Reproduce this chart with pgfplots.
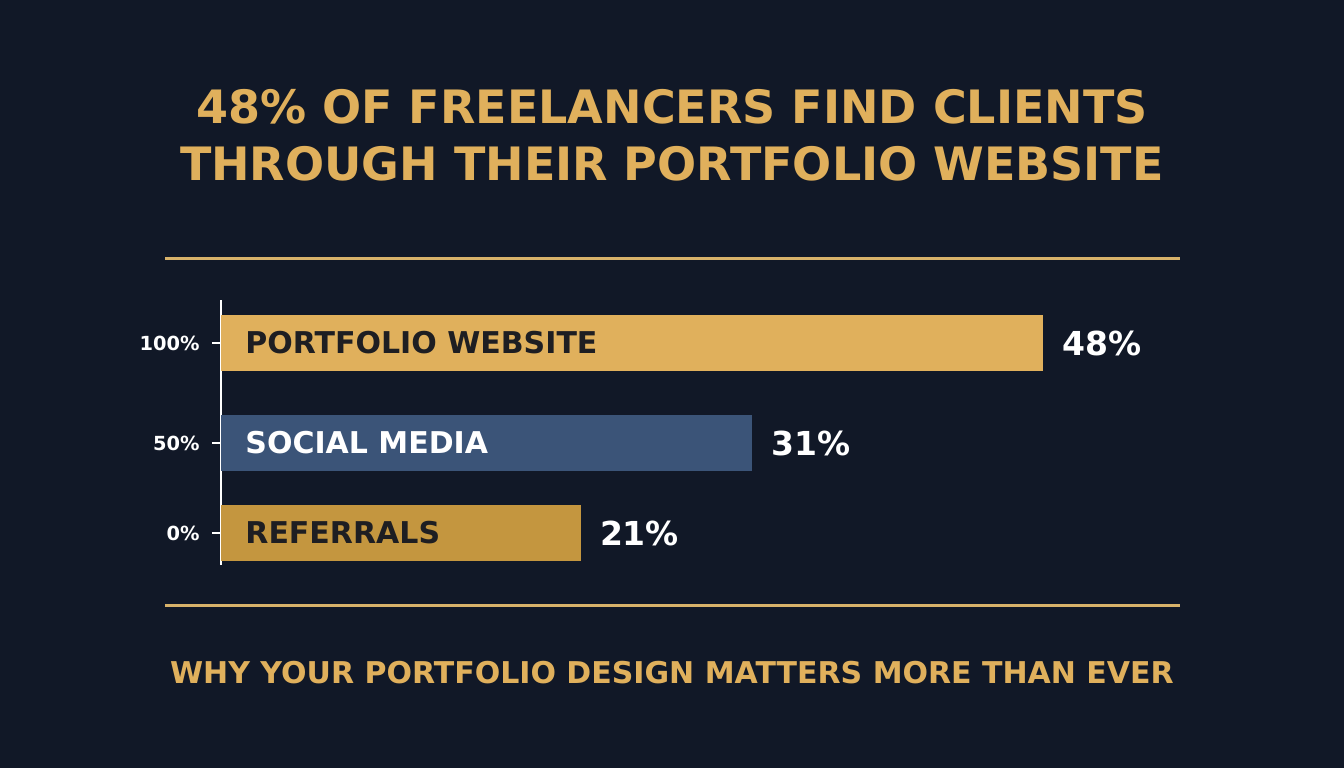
\documentclass[border=0pt]{standalone}
\usepackage{pgfplots}
\pgfplotsset{compat=1.18}
\usepackage{fontspec}
\setmainfont{DejaVu Sans}

\definecolor{bg}{HTML}{111827}
\definecolor{gold}{HTML}{E0B05C}
\definecolor{rulegold}{HTML}{D8B26A}
\definecolor{steel}{HTML}{3B5478}
\definecolor{ochre}{HTML}{C4963F}
\definecolor{ink}{HTML}{1E1E22}

\begin{document}
\begin{tikzpicture}[x=0.5pt,y=0.5pt]
% canvas, 1 unit = 1 px of the reference
\fill[bg] (0,0) rectangle (1344,768);

\node[anchor=base, inner sep=0pt, text=gold, font=\bfseries\fontsize{23}{28}\selectfont]
  at (672,645) {48\% OF FREELANCERS FIND CLIENTS};
\node[anchor=base, inner sep=0pt, text=gold, font=\bfseries\fontsize{23}{28}\selectfont]
  at (672,588) {THROUGH THEIR PORTFOLIO WEBSITE};

\draw[rulegold, line width=1.5pt] (165,510) -- (1180,510);
\draw[rulegold, line width=1.5pt] (165,163) -- (1180,163);

\node[anchor=base, inner sep=0pt, text=gold, font=\bfseries\fontsize{15}{18}\selectfont]
  at (672,85) {WHY YOUR PORTFOLIO DESIGN MATTERS MORE THAN EVER};

% axis placed in absolute pt (x=221px, y=235px of the canvas)
\begin{axis}[
    at={(110.5pt,117.5pt)}, anchor=origin,
    scale only axis,
    width=479.5pt, height=132.5pt,
    xmin=0, xmax=56,
    ymin=-32, ymax=233,
    axis x line=none,
    axis y line*=left,
    axis line style={white, line width=1pt},
    xbar, bar width=28pt, bar shift=0pt,
    ytick={0,90,190},
    yticklabels={0\%,50\%,100\%},
    tick align=outside,
    major tick length=4.5pt,
    tick style={white, line width=1pt},
    yticklabel style={text=white, font=\bfseries\fontsize{9.7}{12}\selectfont, inner sep=0pt, xshift=-6pt},
    /pgf/number format/assume math mode=true,
    nodes near coords={\pgfmathprintnumber{\pgfplotspointmeta}\%},
    nodes near coords align={horizontal},
    every node near coord/.append style={text=white, anchor=west, inner sep=0pt, xshift=9.5pt,
        font=\bfseries\fontsize{16.5}{20}\selectfont},
    clip=false,
]
\addplot[draw=none, fill=gold] coordinates {(48,190)};
\addplot[draw=none, fill=steel] coordinates {(31,90)};
\addplot[draw=none, fill=ochre] coordinates {(21,0)};

\node[anchor=west, inner sep=0pt, text=ink, font=\bfseries\fontsize{15}{18}\selectfont]
  at (axis cs:0,190) [xshift=12pt] {PORTFOLIO WEBSITE};
\node[anchor=west, inner sep=0pt, text=white, font=\bfseries\fontsize{15}{18}\selectfont]
  at (axis cs:0,90) [xshift=12pt] {SOCIAL MEDIA};
\node[anchor=west, inner sep=0pt, text=ink, font=\bfseries\fontsize{15}{18}\selectfont]
  at (axis cs:0,0) [xshift=12pt] {REFERRALS};
\end{axis}
\end{tikzpicture}
\end{document}
